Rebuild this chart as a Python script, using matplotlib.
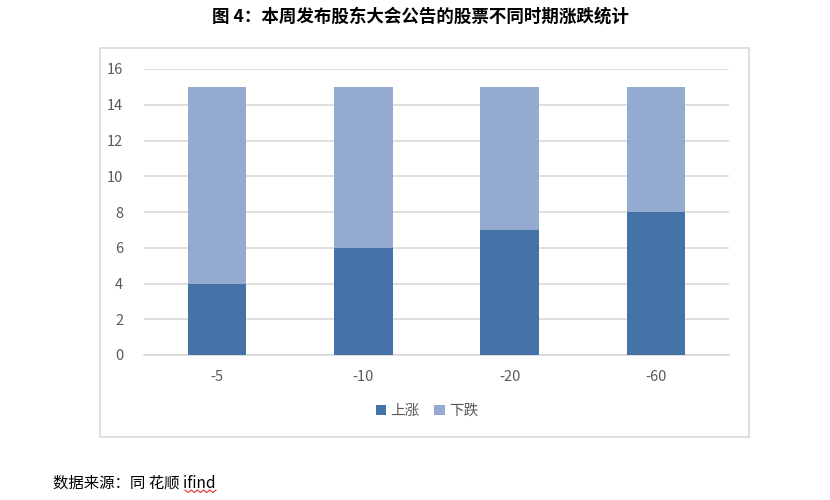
import matplotlib
matplotlib.use("Agg")
import matplotlib.pyplot as plt
from matplotlib.patches import Rectangle
from matplotlib.lines import Line2D
import numpy as np

plt.rcParams['font.family'] = ['Noto Sans CJK SC', 'DejaVu Sans']

categories = ['-5', '-10', '-20', '-60']
up = [4, 6, 7, 8]
down = [11, 9, 8, 7]
series_names = ['上涨', '下跌']
title = '图 4：本周发布股东大会公告的股票不同时期涨跌统计'
source = '数据来源：同 花顺 ifind'

c_up = '#4673A7'
c_down = '#95AAD0'
grid_c = '#D9D9D9'
text_c = '#595959'

fig = plt.figure(figsize=(8.3, 5), dpi=100)
W, H = 830, 500

# outer chart box
fig.patches.append(Rectangle((100 / W, 1 - 437 / H), (749 - 100) / W, (437 - 48) / H,
                             transform=fig.transFigure, fill=False,
                             edgecolor=grid_c, linewidth=1.2))

ax = fig.add_axes([144 / W, 1 - 355 / H, (729 - 144) / W, (355 - 69) / H])
x = np.arange(len(categories))
ax.bar(x, up, width=0.4, color=c_up, label=series_names[0], zorder=3)
ax.bar(x, down, width=0.4, bottom=up, color=c_down, label=series_names[1], zorder=3)

ax.set_xlim(-0.5, len(categories) - 0.5)
ax.set_ylim(0, 16)
ax.set_yticks(range(0, 17, 2))
ax.set_xticks(x)
ax.set_xticklabels(categories)
ax.yaxis.grid(True, color=grid_c, linewidth=1.2, zorder=0)
ax.set_axisbelow(True)
for s in ['top', 'right', 'left']:
    ax.spines[s].set_visible(False)
ax.spines['bottom'].set_color(grid_c)
ax.spines['bottom'].set_linewidth(1.2)
ax.tick_params(axis='both', length=0, colors=text_c, labelsize=10.5)
ax.tick_params(axis='y', pad=15)
ax.tick_params(axis='x', pad=11)

leg = ax.legend(loc='center', bbox_to_anchor=(427 / W, 1 - 411 / H),
                bbox_transform=fig.transFigure, ncol=2, frameon=False,
                handlelength=0.7, handleheight=0.7, handletextpad=0.3,
                columnspacing=1.0, fontsize=10.5)
for t in leg.get_texts():
    t.set_color(text_c)

fig.text(420 / W, 1 - 17 / H, title, ha='center', va='center',
         fontsize=12.6, fontweight='bold', color='black')
fig.text(53 / W, 1 - 483 / H, source, ha='left', va='center',
         fontsize=11.1, color='black')

# spell-check wavy underline under "ifind"
zx = np.linspace(185, 216, 11)
zy = np.where(np.arange(11) % 2 == 0, 490, 492.5)
fig.add_artist(Line2D(zx / W, 1 - zy / H, transform=fig.transFigure,
                      color='#E03030', linewidth=0.8))

fig.savefig('out.png', dpi=100)
